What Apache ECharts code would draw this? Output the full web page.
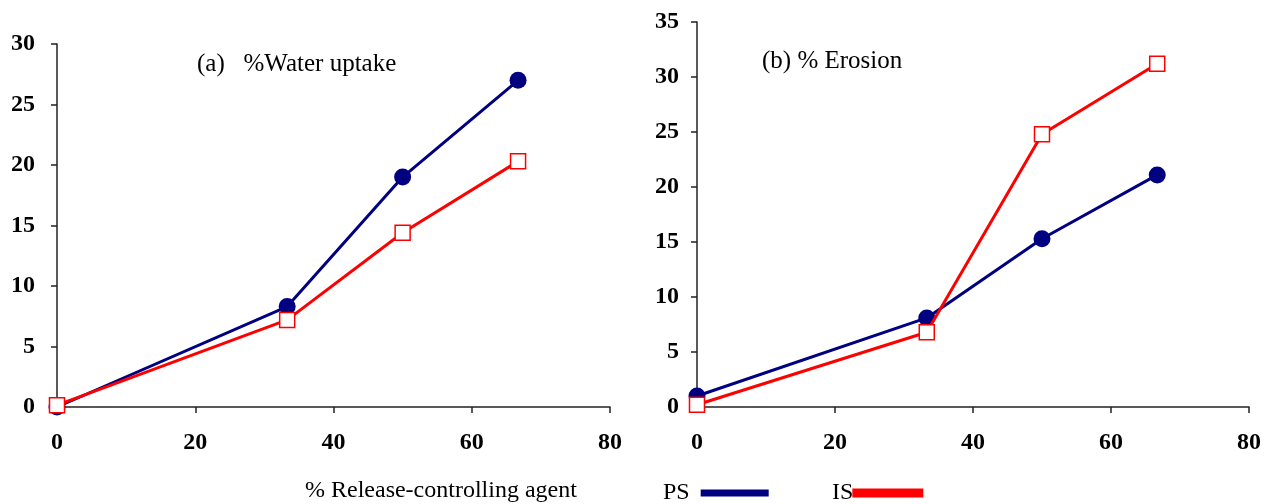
<!DOCTYPE html>
<html>
<head>
<meta charset="utf-8">
<script src="https://cdn.jsdelivr.net/npm/echarts@6/dist/echarts.min.js"></script>
<style>
html,body{margin:0;padding:0;background:#fff;}
#c{width:1264px;height:504px;}
</style>
</head>
<body>
<div id="c"></div>
<script>
const agentPct = [0, 33.3, 50, 66.7];
const waterPS = [0, 8.3, 19.0, 27.0];
const waterIS = [0.15, 7.2, 14.4, 20.3];
const erosionPS = [1.0, 8.1, 15.3, 21.1];
const erosionIS = [0.2, 6.8, 24.8, 31.2];
const xTicks = [0, 20, 40, 60, 80];
const waterTicks = [0, 5, 10, 15, 20, 25, 30];
const erosionTicks = [0, 5, 10, 15, 20, 25, 30, 35];

const pair = (xs, ys) => xs.map((x, i) => [x, ys[i]]);
const serif = '"Liberation Serif", "DejaVu Serif", serif';
const blue = '#000080', red = '#ff0000', axisCol = '#222';

function xAxis(gi) {
  return {
    type: 'value', gridIndex: gi, min: xTicks[0], max: xTicks[xTicks.length - 1],
    interval: xTicks[1] - xTicks[0],
    axisLine: { show: true, onZero: false, lineStyle: { color: axisCol, width: 1.5 } },
    axisTick: { show: true, length: 6, lineStyle: { color: axisCol, width: 1.5 } },
    axisLabel: { margin: 24, color: '#000', fontFamily: serif, fontWeight: 'bold', fontSize: 24 },
    splitLine: { show: false }
  };
}
function yAxis(gi, ticks, margin) {
  return {
    type: 'value', gridIndex: gi, min: ticks[0], max: ticks[ticks.length - 1],
    interval: ticks[1] - ticks[0],
    axisLine: { show: true, lineStyle: { color: axisCol, width: 1.5 } },
    axisTick: { show: true, length: 6, lineStyle: { color: axisCol, width: 1.5 } },
    axisLabel: { margin: margin, color: '#000', fontFamily: serif, fontWeight: 'bold', fontSize: 24 },
    splitLine: { show: false }
  };
}
function psSeries(gi, ys) {
  return {
    name: 'PS', type: 'line', xAxisIndex: gi, yAxisIndex: gi, data: pair(agentPct, ys),
    symbol: 'circle', symbolSize: 17, z: 2,
    lineStyle: { color: blue, width: 3 },
    itemStyle: { color: blue, borderColor: blue, borderWidth: 0 }
  };
}
function isSeries(gi, ys) {
  return {
    name: 'IS', type: 'line', xAxisIndex: gi, yAxisIndex: gi, data: pair(agentPct, ys),
    symbol: 'rect', symbolSize: 15, z: 3,
    lineStyle: { color: red, width: 3 },
    itemStyle: { color: '#fff', borderColor: red, borderWidth: 1.5 }
  };
}
const textBase = { fontFamily: serif, fontWeight: 'normal', color: '#000' };

const chart = echarts.init(document.getElementById('c'), null, { renderer: 'canvas' });
chart.setOption({
  animation: false,
  backgroundColor: '#fff',
  title: [
    { text: '(a)   %Water uptake', left: 192, top: 47,
      textStyle: Object.assign({ fontSize: 25 }, textBase) },
    { text: '(b) % Erosion', left: 757, top: 44,
      textStyle: Object.assign({ fontSize: 25 }, textBase) },
    { text: '% Release-controlling agent', left: 300, top: 474,
      textStyle: Object.assign({ fontSize: 24 }, textBase) }
  ],
  legend: [
    { data: [{ name: 'PS', icon: 'rect', itemStyle: { color: blue } }],
      left: 658, top: 476, align: 'right', itemWidth: 68, itemHeight: 7, selectedMode: false,
      textStyle: Object.assign({ fontSize: 24, padding: [0, 6, 0, 0] }, textBase) },
    { data: [{ name: 'IS', icon: 'rect', itemStyle: { color: red } }],
      left: 827, top: 476, align: 'right', itemWidth: 69, itemHeight: 7, selectedMode: false,
      textStyle: Object.assign({ fontSize: 24, padding: [0, -5, 0, 0] }, textBase) }
  ],
  grid: [
    { left: 57, right: 1264 - 610, top: 44, bottom: 504 - 407 },
    { left: 697, right: 1264 - 1252, top: 22, bottom: 504 - 407 }
  ],
  xAxis: [xAxis(0), xAxis(1)],
  yAxis: [yAxis(0, waterTicks, 22), yAxis(1, erosionTicks, 18)],
  series: [
    psSeries(0, waterPS), isSeries(0, waterIS),
    psSeries(1, erosionPS), isSeries(1, erosionIS)
  ]
});
</script>
</body>
</html>
